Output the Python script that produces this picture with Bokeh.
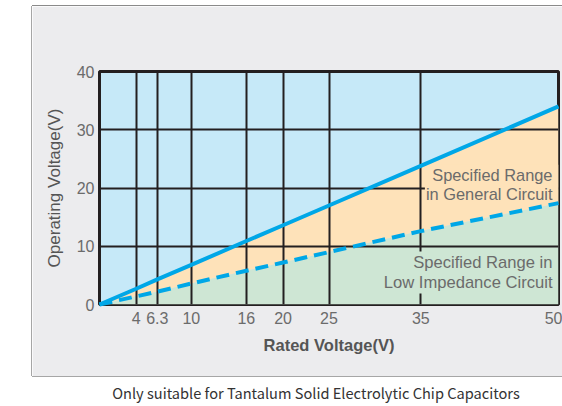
from bokeh.plotting import figure
from bokeh.models import FixedTicker, Label, Spacer, NumeralTickFormatter
from bokeh.layouts import column, row
from bokeh.embed import file_html
from bokeh.resources import INLINE

# ---- data ----
rated = [0, 4, 6.3, 10, 16, 20, 25, 35, 50]
general_circuit = [0, 2.7, 4.3, 6.8, 10.9, 13.6, 17.0, 23.8, 34.0]
low_impedance = [0, 1.4, 2.2, 3.6, 5.8, 7.2, 9.0, 12.6, 17.4]
x_ticks = [4, 6.3, 10, 16, 20, 25, 35, 50]
y_ticks = [0, 10, 20, 30, 40]
label_general = "Specified Range\nin General Circuit"
label_low = "Specified Range in\nLow Impedance Circuit"
caption = "Only suitable for Tantalum Solid Electrolytic Chip Capacitors"

BLUE_BG = "#c6e9f8"
ORANGE = "#fee2b9"
GREEN = "#cee6d4"
LINE = "#00a7e7"
DARK = "#231f20"
PANEL = "#ececee"
FONT = "Liberation Sans"

p = figure(width=530, height=370, x_range=(0, 50), y_range=(0, 40),
           output_backend="svg", toolbar_location=None,
           min_border_left=67, min_border_right=4,
           min_border_top=65, min_border_bottom=72)
p.styles = {"box-shadow": "-1px 0 0 0 #a6a6a6, 0 1px 0 0 #a6a6a6, 0 -1px 0 0 #8a8a8a"}
p.background_fill_color = BLUE_BG
p.border_fill_color = PANEL
p.outline_line_color = DARK
p.outline_line_width = 3

# regions
p.varea(x=rated, y1=low_impedance, y2=general_circuit, fill_color=ORANGE, level="underlay")
p.varea(x=rated, y1=0, y2=low_impedance, fill_color=GREEN, level="underlay")

# grid
p.xgrid.ticker = FixedTicker(ticks=x_ticks)
p.ygrid.ticker = FixedTicker(ticks=y_ticks)
for g in (p.xgrid[0], p.ygrid[0]):
    g.grid_line_color = DARK
    g.grid_line_width = 2
    g.level = "glyph"

# lines
p.line(rated, general_circuit, line_color=LINE, line_width=4, level="overlay")
p.line(rated, low_impedance, line_color=LINE, line_width=4, line_dash="13 7", level="overlay")

# axes
p.xaxis.ticker = FixedTicker(ticks=x_ticks)
p.xaxis.formatter = NumeralTickFormatter(format="0.[0]")
p.yaxis.ticker = FixedTicker(ticks=y_ticks)
for ax in (p.xaxis[0], p.yaxis[0]):
    ax.axis_line_color = None
    ax.major_tick_line_color = None
    ax.minor_tick_line_color = None
    ax.major_tick_out = 0
    ax.major_tick_in = 0
    ax.major_label_text_font = FONT
    ax.major_label_text_font_size = "16px"
    ax.major_label_text_color = "#6b6b6b"
    ax.axis_label_text_font = FONT
    ax.axis_label_text_color = "#555555"
p.xaxis.major_label_standoff = 7
p.yaxis.major_label_standoff = 5
p.xaxis.axis_label = "Rated Voltage(V)"
p.xaxis.axis_label_text_font_size = "16.5px"
p.xaxis.axis_label_text_font_style = "bold"
p.xaxis.axis_label_standoff = 9
p.yaxis.axis_label = "Operating Voltage(V)"
p.yaxis.axis_label_text_font_size = "17px"
p.yaxis.axis_label_text_font_style = "normal"
p.yaxis.axis_label_standoff = 10

p.add_layout(Label(x=50, y=24.0, x_offset=0, text=label_general,
                   text_align="right", text_baseline="top",
                   text_font=FONT, text_font_size="16.4px", text_color="#6b6b6b",
                   text_line_height=1.05, background_fill_color=ORANGE,
                   padding=dict(left=1, right=6, top=1, bottom=0)))
p.add_layout(Label(x=50, y=9.1, x_offset=-1, text=label_low,
                   text_align="right", text_baseline="top",
                   text_font=FONT, text_font_size="16.6px", text_color="#6b6b6b",
                   text_line_height=1.05, background_fill_color=GREEN,
                   padding=dict(left=4, right=5, top=2, bottom=1)))

# caption
cap = figure(width=562, height=29, x_range=(0, 562), y_range=(0, 29),
             output_backend="svg", toolbar_location=None, min_border=0)
cap.axis.visible = False
cap.grid.visible = False
cap.outline_line_color = None
cap.background_fill_color = "white"
cap.border_fill_color = "white"
cap.add_layout(Label(x=315.5, y=14, text=caption, text_align="center",
                     text_baseline="middle", text_font="Noto Sans CJK SC",
                     text_font_size="14.6px", text_color="#333333"))

layout = column(Spacer(width=562, height=6),
                row(Spacer(width=32, height=370), p),
                Spacer(width=562, height=1),
                cap)
open("out.html", "w").write(file_html(layout, INLINE))
